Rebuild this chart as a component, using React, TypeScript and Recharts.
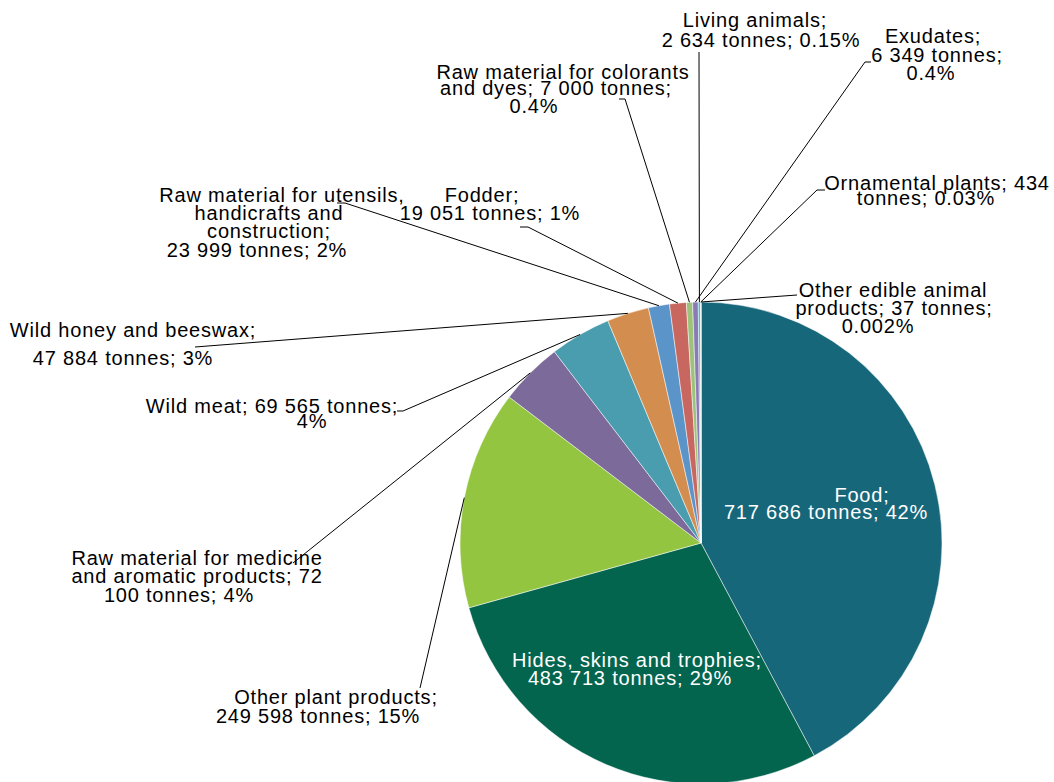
import React from 'react';
import { PieChart, Pie, Cell } from 'recharts';

const categories = [
  'Food',
  'Hides, skins and trophies',
  'Other plant products',
  'Raw material for medicine and aromatic products',
  'Wild meat',
  'Wild honey and beeswax',
  'Raw material for utensils, handicrafts and construction',
  'Fodder',
  'Raw material for colorants and dyes',
  'Exudates',
  'Living animals',
  'Ornamental plants',
  'Other edible animal products',
];

const tonnes = [717686, 483713, 249598, 72100, 69565, 47884, 23999, 19051, 7000, 6349, 2634, 434, 37];

const labelLines = [
  ['Food;', '717 686 tonnes; 42%'],
  ['Hides, skins and trophies;', '483 713 tonnes; 29%'],
  ['Other plant products;', '249 598 tonnes; 15%'],
  ['Raw material for medicine', 'and aromatic products; 72', '100 tonnes; 4%'],
  ['Wild meat; 69 565 tonnes;', '4%'],
  ['Wild honey and beeswax;', '47 884 tonnes; 3%'],
  ['Raw material for utensils,', 'handicrafts and', 'construction;', '23 999 tonnes; 2%'],
  ['Fodder;', '19 051 tonnes; 1%'],
  ['Raw material for colorants', 'and dyes; 7 000 tonnes;', '0.4%'],
  ['Exudates;', '6 349 tonnes;', '0.4%'],
  ['Living animals;', '2 634 tonnes; 0.15%'],
  ['Ornamental plants; 434', 'tonnes; 0.03%'],
  ['Other edible animal', 'products; 37 tonnes;', '0.002%'],
];

const colors = [
  '#17677b', '#04654f', '#93c540', '#7b6a9a', '#4a9dae', '#d38e4f', '#5b94c9',
  '#c8675f', '#9dc27b', '#8a7bb5', '#4ac0d0', '#e8a35a', '#a0a0a0',
];

// label text positions (centre x, baseline y per line) and leader line ends
type Layout = { lines: number[][]; elbow?: number[]; tail?: number };
const labelLayout: Layout[] = [
  { lines: [[862, 502], [826, 519]] },
  { lines: [[637, 667], [630, 685]] },
  { lines: [[336, 704], [318, 723]], elbow: [420, 688] },
  { lines: [[197, 565], [197, 583], [179, 602]], elbow: [293, 563] },
  { lines: [[272, 413], [312, 428]], elbow: [403, 411], tail: 397 },
  { lines: [[133, 337], [123, 365]], elbow: [195, 347] },
  { lines: [[282, 202], [269, 220], [269, 238], [257, 257]], elbow: [345, 203], tail: 337 },
  { lines: [[482, 202], [490, 220]], elbow: [528, 227], tail: 520 },
  { lines: [[563, 79], [556, 95], [534, 113]], elbow: [625, 99], tail: 619 },
  { lines: [[933, 43], [937, 62], [931, 80]], elbow: [865, 62], tail: 871 },
  { lines: [[755, 27], [761, 47]], elbow: [699, 52] },
  { lines: [[937, 190], [926, 205]], elbow: [817, 190], tail: 825 },
  { lines: [[893, 297], [894, 315], [878, 333]], elbow: [797, 295] },
];

const data = categories.map((name, i) => ({ name, value: tonnes[i] }));
const RAD = Math.PI / 180;

const renderLabel = (props: any) => {
  const { cx, cy, midAngle, outerRadius, index } = props;
  const lay = labelLayout[index];
  const fill = index < 2 ? '#ffffff' : '#000000';
  let leader = null;
  if (lay.elbow) {
    const sx = cx + outerRadius * Math.cos(-midAngle * RAD);
    const sy = cy + outerRadius * Math.sin(-midAngle * RAD);
    let pts = `${sx},${sy} ${lay.elbow[0]},${lay.elbow[1]}`;
    if (lay.tail !== undefined) pts += ` ${lay.tail},${lay.elbow[1]}`;
    leader = <polyline points={pts} fill="none" stroke="#000" strokeWidth={1} />;
  }
  return (
    <g key={`lbl-${index}`}>
      {leader}
      {labelLines[index].map((t, j) => (
        <text
          key={j}
          x={lay.lines[j][0]}
          y={lay.lines[j][1]}
          textAnchor="middle"
          fill={fill}
          fontSize={20}
          letterSpacing={0.8}
          fontFamily="'Liberation Sans', Arial, sans-serif"
        >
          {t}
        </text>
      ))}
    </g>
  );
};

export default function App() {
  return (
    <div style={{ position: 'absolute', left: 0, top: 0, width: 1054, height: 782, background: '#fff' }}>
      <PieChart width={1054} height={782} margin={{ top: 0, right: 0, bottom: 0, left: 0 }}>
        <Pie
          data={data}
          dataKey="value"
          nameKey="name"
          cx={701}
          cy={543}
          outerRadius={241}
          startAngle={90}
          endAngle={-270}
          stroke="#ffffff"
          strokeWidth={0.5}
          label={renderLabel}
          labelLine={false}
          isAnimationActive={false}
        >
          {data.map((d, i) => (
            <Cell key={`cell-${i}`} fill={colors[i]} />
          ))}
        </Pie>
      </PieChart>
    </div>
  );
}
